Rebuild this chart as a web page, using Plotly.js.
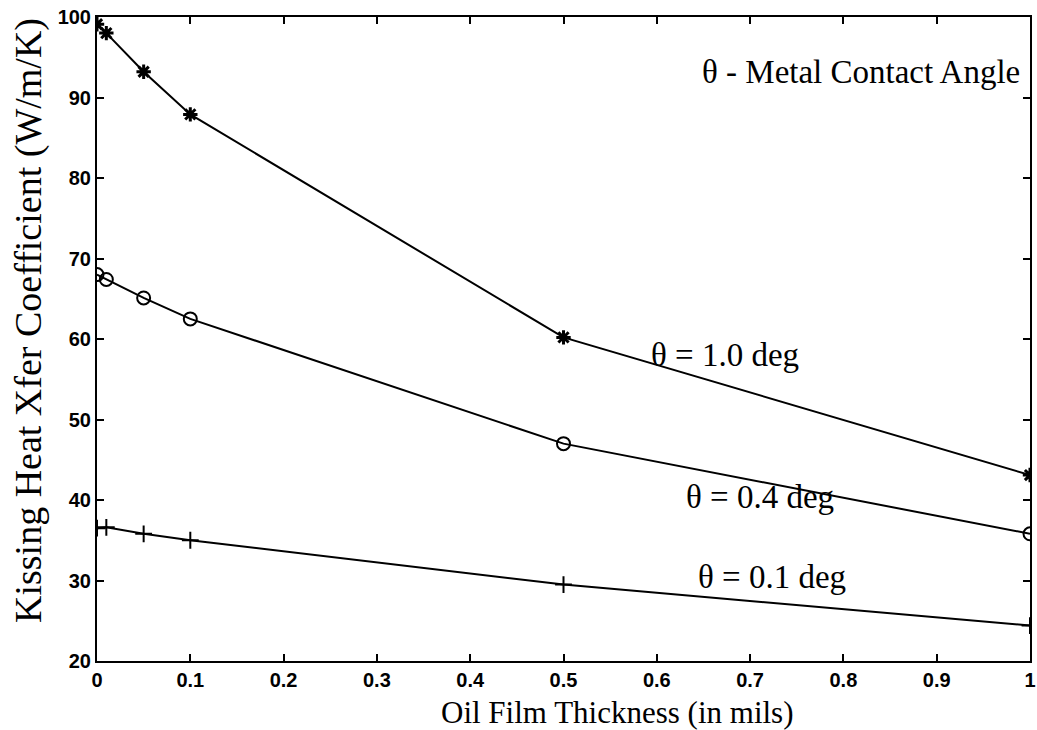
<!DOCTYPE html>
<html><head><meta charset="utf-8">
<script src="https://cdn.plot.ly/plotly-3.0.1.min.js"></script>
<style>html,body{margin:0;padding:0;background:#fff}#chart{width:1037px;height:730px}</style>
</head><body><div id="chart"></div>
<script>
const thickness = [0, 0.01, 0.05, 0.1, 0.5, 1.0];
const deg10 = [99.1, 98.0, 93.2, 87.9, 60.2, 43.1];
const deg04 = [68.0, 67.4, 65.1, 62.5, 47.0, 35.8];
const deg01 = [36.5, 36.6, 35.8, 35.0, 29.5, 24.4];
const seriesLabels = ['θ = 1.0 deg', 'θ = 0.4 deg', 'θ = 0.1 deg'];
const xTicks = [0, 0.1, 0.2, 0.3, 0.4, 0.5, 0.6, 0.7, 0.8, 0.9, 1];
const xTickText = ['0', '0.1', '0.2', '0.3', '0.4', '0.5', '0.6', '0.7', '0.8', '0.9', '1'];
const yTicks = [20, 30, 40, 50, 60, 70, 80, 90, 100];
const xTitle = 'Oil Film Thickness (in mils)';
const yTitle = 'Kissing Heat Xfer Coefficient (W/m/K)';

const line = {color: '#000', width: 2};
const traces = [
  {x: thickness, y: deg10, mode: 'lines+markers', line: line,
   marker: {symbol: 'asterisk-open', size: 12, color: '#000', line: {color: '#000', width: 3}}},
  {x: thickness, y: deg04, mode: 'lines+markers', line: line,
   marker: {symbol: 'circle-open', size: 13, color: '#000', line: {color: '#000', width: 2}}},
  {x: thickness, y: deg01, mode: 'lines+markers', line: line,
   marker: {symbol: 'cross-thin-open', size: 12, color: '#000', line: {color: '#000', width: 2}}}
];
const serif = 'Liberation Serif, Times New Roman, serif';
const sans = 'Liberation Sans, Arial, sans-serif';
const annFont = {family: serif, size: 33, color: '#000'};
const W = 1037, H = 730, ML = 97, MR = 7, MT = 17, MB = 69;
const plotW = W - ML - MR, plotH = H - MT - MB;
const px2paperX = px => (px - ML) / plotW;
const px2paperY = py => (H - py - MB) / plotH;
const layout = {
  width: W, height: H,
  margin: {l: ML, r: MR, t: MT, b: MB},
  showlegend: false,
  paper_bgcolor: '#fff', plot_bgcolor: '#fff',
  font: {family: sans, color: '#000'},
  xaxis: {range: [0, 1], tickvals: xTicks, ticktext: xTickText, ticks: 'inside', ticklen: 7,
    tickwidth: 2, tickcolor: '#000', showline: true, linecolor: '#000', linewidth: 2, mirror: 'ticks',
    showgrid: false, zeroline: false,
    tickfont: {size: 20, family: sans, weight: 'bold'}},
  yaxis: {range: [20, 100], tickvals: yTicks, ticks: 'inside', ticklen: 7,
    tickwidth: 2, tickcolor: '#000', showline: true, linecolor: '#000', linewidth: 2, mirror: 'ticks',
    showgrid: false, zeroline: false,
    tickfont: {size: 20, family: sans, weight: 'bold'}},
  annotations: [
    {text: xTitle, xref: 'paper', yref: 'paper', x: px2paperX(617), y: px2paperY(712),
     xanchor: 'center', yanchor: 'middle', showarrow: false, borderpad: 0,
     font: {family: serif, size: 31, color: '#000'}},
    {text: yTitle, textangle: -90, xref: 'paper', yref: 'paper', x: px2paperX(28), y: px2paperY(321),
     xanchor: 'center', yanchor: 'middle', showarrow: false,
     font: {family: serif, size: 38, color: '#000'}},
    {text: 'θ - Metal Contact Angle', x: 0.991, y: 93.2, xref: 'x', yref: 'y', xanchor: 'right', showarrow: false,
     font: annFont},
    {text: seriesLabels[0], x: 0.673, y: 58.0, xref: 'x', yref: 'y', showarrow: false, font: annFont},
    {text: seriesLabels[1], x: 0.711, y: 40.4, xref: 'x', yref: 'y', showarrow: false, font: annFont},
    {text: seriesLabels[2], x: 0.723, y: 30.4, xref: 'x', yref: 'y', showarrow: false, font: annFont}
  ]
};
Plotly.newPlot('chart', traces, layout, {displayModeBar: false, staticPlot: true});
</script></body></html>
